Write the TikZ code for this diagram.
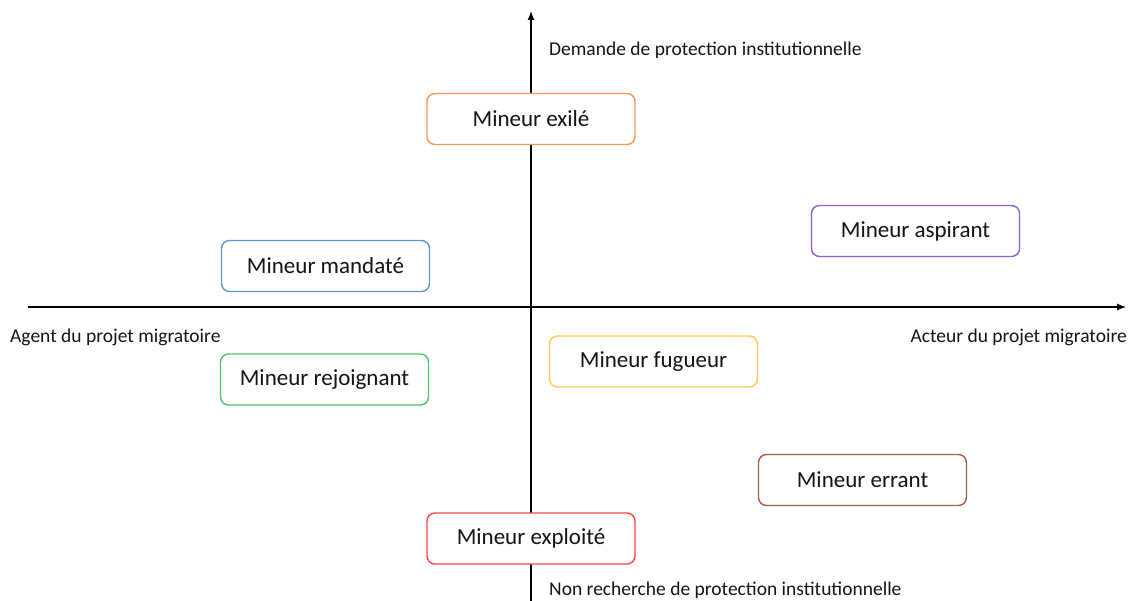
\documentclass[tikz,border=0pt]{standalone}
\usepackage{fontspec}
\setmainfont{Carlito}
\usetikzlibrary{arrows.meta}
\definecolor{cexile}{RGB}{244,150,90}
\definecolor{caspir}{RGB}{145,95,200}
\definecolor{cmandat}{RGB}{95,150,210}
\definecolor{crejoin}{RGB}{80,195,110}
\definecolor{cfugue}{RGB}{255,200,80}
\definecolor{cerrant}{RGB}{160,100,60}
\definecolor{cexploit}{RGB}{250,70,70}
\definecolor{txt}{RGB}{20,20,20}
\tikzset{
  x=1pt, y=-1pt,
  typebox/.style={draw, line width=1.4pt, rounded corners=8pt, minimum width=208pt, minimum height=51pt, inner sep=0pt, font=\fontsize{23}{26}\selectfont, text=txt},
  axislabel/.style={font=\fontsize{19.5}{22}\selectfont, text=txt, inner sep=0pt},
  axisline/.style={line width=1.2pt, -{Latex[length=9pt,width=7pt]}}
}
\begin{document}
\begin{tikzpicture}
\useasboundingbox (0,0) rectangle (1129,601);
\coordinate (xs) at (28,307);
\coordinate (xe) at (1126,307);
\coordinate (ys) at (531,601);
\coordinate (ye) at (531,11);
\draw[axisline] (xs) -- (xe);
\draw[axisline] (ys) -- (ye);
\node[typebox, draw=cexile, fill=white] (exile) at (531,119) {Mineur exilé};
\node[typebox, draw=caspir, fill=white] (aspir) at (915.5,231) {Mineur aspirant};
\node[typebox, draw=cmandat, fill=white] (mandat) at (325.5,266) {Mineur mandaté};
\node[typebox, draw=crejoin, fill=white] (rejoin) at (324.5,379.5) {Mineur rejoignant};
\node[typebox, draw=cfugue, fill=white] (fugue) at (653.5,361.5) {Mineur fugueur};
\node[typebox, draw=cerrant, fill=white] (errant) at (862.5,480) {Mineur errant};
\node[typebox, draw=cexploit, fill=white] (exploit) at (531,538.5) {Mineur exploité};
\node[axislabel, anchor=west] (ldem) at (549,50) {Demande de protection institutionnelle};
\node[axislabel, anchor=west] (lagent) at (10,337) {Agent du projet migratoire};
\node[axislabel, anchor=east] (lacteur) at (1127,337) {Acteur du projet migratoire};
\node[axislabel, anchor=west] (lnon) at (549,590) {Non recherche de protection institutionnelle};
\end{tikzpicture}
\end{document}
